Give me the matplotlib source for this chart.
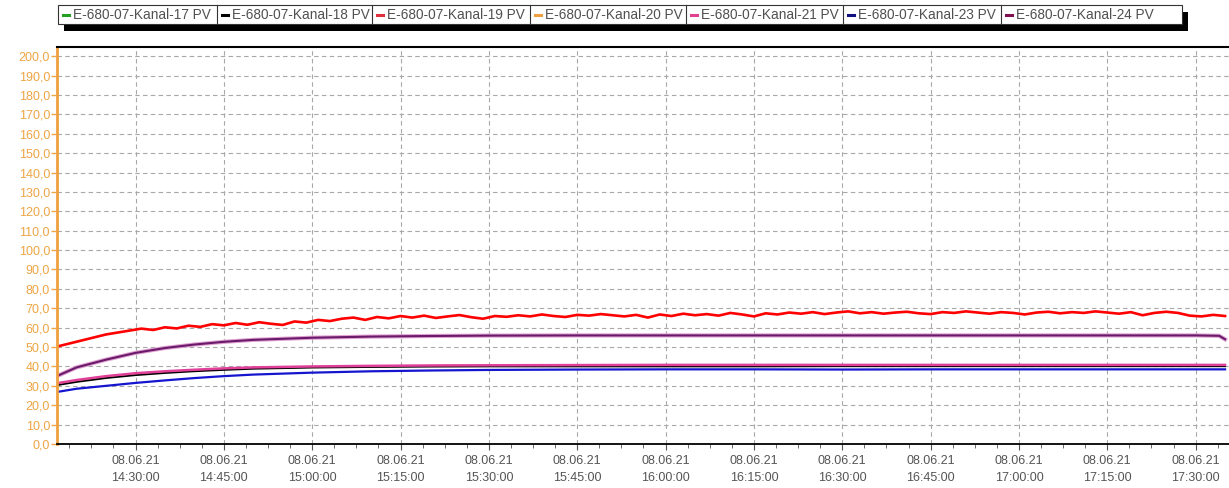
import numpy as np
import pandas as pd
import matplotlib.pyplot as plt
import matplotlib.dates as mdates
from matplotlib.ticker import MultipleLocator, FuncFormatter, AutoMinorLocator
from matplotlib.patches import Rectangle
from matplotlib.lines import Line2D

plt.rcParams['font.family'] = ['Liberation Sans', 'DejaVu Sans']

# --- data ---
channels = ['E-680-07-Kanal-17 PV', 'E-680-07-Kanal-18 PV', 'E-680-07-Kanal-19 PV',
            'E-680-07-Kanal-20 PV', 'E-680-07-Kanal-21 PV', 'E-680-07-Kanal-23 PV',
            'E-680-07-Kanal-24 PV']

# smooth channels sampled at these times
times = ['14:17', '14:20', '14:25', '14:30', '14:35', '14:40', '14:45', '14:50',
         '15:00', '15:10', '15:20', '15:30', '15:45', '16:00', '16:15', '16:30',
         '16:45', '17:00', '17:15', '17:30', '17:34', '17:35']
kanal17 = [31.0, 32.6, 34.6, 36.0, 37.1, 38.0, 38.7, 39.2, 39.7, 40.0, 40.2,
           40.3, 40.4, 40.4, 40.4, 40.4, 40.4, 40.4, 40.4, 40.4, 40.4, 40.4]
kanal18 = [30.5, 32.0, 34.0, 35.5, 36.6, 37.5, 38.2, 38.8, 39.4, 39.7, 39.9,
           40.0, 40.0, 40.0, 40.0, 40.1, 40.1, 40.1, 40.1, 40.1, 40.1, 40.1]
kanal20 = [31.2, 32.8, 34.8, 36.2, 37.3, 38.1, 38.8, 39.3, 39.8, 40.1, 40.3,
           40.4, 40.5, 40.5, 40.5, 40.5, 40.5, 40.5, 40.5, 40.5, 40.5, 40.5]
kanal21 = [31.5, 33.0, 35.0, 36.5, 37.5, 38.3, 39.0, 39.5, 40.0, 40.3, 40.5,
           40.6, 40.7, 40.8, 40.8, 40.8, 40.8, 40.8, 40.8, 40.8, 40.8, 40.8]
kanal23 = [27.0, 28.5, 30.0, 31.5, 32.8, 34.0, 35.0, 35.8, 36.8, 37.5, 37.9,
           38.2, 38.4, 38.5, 38.5, 38.4, 38.5, 38.5, 38.5, 38.5, 38.5, 38.5]
kanal24 = [35.5, 39.5, 43.5, 47.0, 49.5, 51.3, 52.7, 53.7, 54.8, 55.4, 55.7,
           55.9, 56.0, 56.0, 56.0, 56.0, 56.0, 56.0, 56.0, 56.0, 55.8, 54.0]

# noisy channel 19, one reading every 2 minutes from 14:17
kanal19 = [50.5, 52.0, 53.5, 55.0, 56.5, 57.5, 58.5,
           59.5, 58.8, 60.2, 59.6, 61.0, 60.4, 61.8, 61.2,
           62.4, 61.5, 62.8, 62.0, 61.4, 63.2, 62.6, 64.0,
           63.4, 64.6, 65.2, 64.0, 65.5, 64.8, 66.0, 65.2,
           66.2, 65.0, 65.8, 66.5, 65.4, 64.6, 66.0, 65.6,
           66.4, 65.8, 66.8, 66.0, 65.5, 66.6, 66.2, 67.0,
           66.4, 65.8, 66.6, 65.2, 66.8, 66.0, 67.2, 66.4,
           67.0, 66.2, 67.6, 66.8, 65.8, 67.4, 66.8, 67.8,
           67.2, 68.0, 67.0, 67.8, 68.4, 67.4, 68.0, 67.2,
           67.8, 68.2, 67.4, 67.0, 68.0, 67.6, 68.4, 67.8,
           67.2, 68.0, 67.6, 66.8, 67.8, 68.2, 67.4, 68.0,
           67.6, 68.4, 67.8, 67.2, 68.0, 66.4, 67.6, 68.2,
           67.6, 66.2, 65.8, 66.6, 66.0]

t = pd.to_datetime(['2021-06-08 ' + s for s in times])
t19 = pd.date_range('2021-06-08 14:17', periods=len(kanal19), freq='2min')

line_colors = {'17': '#22a022', '18': '#000000', '19': '#ff0000', '20': '#f0a040',
               '21': '#e0409a', '23': '#1515d0', '24': '#6a1a6a'}
legend_colors = ['#22a022', '#000000', '#e03040', '#f0a040', '#e04090', '#101080', '#801050']

W, H = 1229, 488
fig = plt.figure(figsize=(W / 100, H / 100), dpi=100)
ax = fig.add_axes([57 / W, 1 - 444 / H, 1 - 57 / W, (444 - 46.5) / H])

ax.plot(t, kanal17, color=line_colors['17'], lw=1.3)
ax.plot(t, kanal20, color=line_colors['20'], lw=1.3)
ax.plot(t, kanal18, color=line_colors['18'], lw=1.3)
ax.plot(t, kanal21, color=line_colors['21'], lw=1.8)
ax.plot(t, kanal23, color=line_colors['23'], lw=1.6)
ax.plot(t, kanal24, color='#e0a0d0', lw=3.0)
ax.plot(t, kanal24, color=line_colors['24'], lw=1.5)
ax.plot(t19, kanal19, color=line_colors['19'], lw=1.9)

ax.set_xlim(pd.Timestamp('2021-06-08 14:16:40'), pd.Timestamp('2021-06-08 17:35:40'))
ax.set_ylim(0, 205)

# axes styling
orange = '#eea545'
ax.spines['right'].set_visible(False)
ax.spines['left'].set_color('#f0a040')
ax.spines['left'].set_linewidth(2.0)
ax.spines['top'].set_linewidth(1.5)
ax.spines['bottom'].set_linewidth(1.3)

ax.yaxis.set_major_locator(MultipleLocator(10))
ax.yaxis.set_major_formatter(FuncFormatter(lambda v, p: f'{v:.1f}'.replace('.', ',')))
ax.tick_params(axis='y', colors=orange, labelsize=9, length=4, width=1, pad=1)

ax.xaxis.set_major_locator(mdates.MinuteLocator(byminute=[0, 15, 30, 45]))
ax.xaxis.set_minor_locator(AutoMinorLocator(4))
ax.xaxis.set_major_formatter(mdates.DateFormatter('%d.%m.%y\n%H:%M:%S'))
ax.tick_params(axis='x', which='major', colors='#555555', labelsize=9, length=4, pad=4)
ax.tick_params(axis='x', which='minor', color='#555555', length=3)
for lab in ax.get_xticklabels():
    lab.set_linespacing(1.5)

ax.grid(True, which='major', color='#a8a8a8', linestyle=(0, (4, 3)), linewidth=0.8)
ax.set_axisbelow(True)

# legend box with shadow, drawn in pixel coordinates
def px(x, y):
    return x / W, 1 - y / H

box_l, box_r, box_t, box_b = 58, 1182, 5, 24
fig.patches.append(Rectangle(px(box_l + 6, box_b + 7), (box_r - box_l) / W, (box_b - box_t) / H,
                             transform=fig.transFigure, facecolor='black', edgecolor='none'))
fig.patches.append(Rectangle(px(box_l, box_b), (box_r - box_l) / W, (box_b - box_t) / H,
                             transform=fig.transFigure, facecolor='white', edgecolor='#333333', lw=0.8))
seps = [box_l, 217, 372, 530, 686, 843, 1001]
for i, name in enumerate(channels):
    x0 = seps[i]
    if i > 0:
        fig.lines.append(Line2D([x0 / W, x0 / W], [1 - box_t / H, 1 - box_b / H],
                                transform=fig.transFigure, color='#333333', lw=0.8))
    ym = (box_t + box_b) / 2 + 0.5
    fig.lines.append(Line2D([(x0 + 5) / W, (x0 + 11) / W], [1 - ym / H, 1 - ym / H],
                            transform=fig.transFigure, color=legend_colors[i], lw=2.2))
    fig.text((x0 + 15) / W, 1 - ym / H, name, fontsize=9.8, color='#505050',
             va='center', ha='left')

fig.savefig('out.png', dpi=100)
